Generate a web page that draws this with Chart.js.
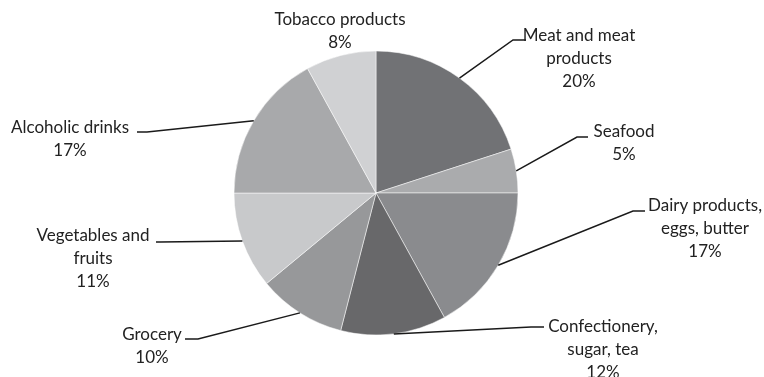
<!DOCTYPE html>
<html>
<head>
<meta charset="utf-8">
<script src="https://cdn.jsdelivr.net/npm/chart.js@4"></script>
<style>
  html, body { margin: 0; padding: 0; background: #fff; }
  #wrap { width: 764px; height: 377px; }
</style>
</head>
<body>
<div id="wrap"><canvas id="pie" width="764" height="377"></canvas></div>
<script>
// categories (split into the lines shown on the chart) and their shares, in %
const categories = [
    ['Meat and meat', 'products'],
    ['Seafood'],
    ['Dairy products,', 'eggs, butter'],
    ['Confectionery,', 'sugar, tea'],
    ['Grocery'],
    ['Vegetables and', 'fruits'],
    ['Alcoholic drinks'],
    ['Tobacco products']
];
const shares = [20, 5, 17, 12, 10, 11, 17, 8];
const sliceColors = ['#717275', '#aaabad', '#8a8b8e', '#68686a', '#97989a', '#c8c9cb', '#a8a9ab', '#d0d1d3'];

// where each callout sits: elbow of the leader line, end of its short tail, text centre + first line y
const callouts = [
    {elbow: [513, 40], tail: [526, 40], text: [579, 36]},
    {elbow: [577, 137], tail: [588, 137], text: [624, 132]},
    {elbow: [633, 211], tail: [645, 211], text: [705, 206]},
    {elbow: [531, 327], tail: [544, 327], text: [603, 327]},
    {elbow: [198, 339], tail: [185, 339], text: [152, 335]},
    {elbow: [160, 242], tail: [156, 242], text: [93, 236]},
    {elbow: [147, 132], tail: [137, 132], text: [70, 128]},
    {elbow: null, tail: null, text: [340, 20]}
];
const lineHeight = 23;

const calloutPlugin = {
    id: 'callouts',
    afterDraw(chart) {
        const ctx = chart.ctx;
        const arcs = chart.getDatasetMeta(0).data;
        ctx.save();
        arcs.forEach((arc, i) => {
            const c = callouts[i];
            const mid = (arc.startAngle + arc.endAngle) / 2;
            if (c.elbow) {
                ctx.beginPath();
                ctx.strokeStyle = '#1a1a1a';
                ctx.lineWidth = 1.5;
                ctx.moveTo(arc.x + Math.cos(mid) * arc.outerRadius, arc.y + Math.sin(mid) * arc.outerRadius);
                ctx.lineTo(c.elbow[0], c.elbow[1]);
                ctx.lineTo(c.tail[0], c.tail[1]);
                ctx.stroke();
            }
            ctx.fillStyle = '#222';
            ctx.font = '17px Lato';
            ctx.textAlign = 'center';
            ctx.textBaseline = 'middle';
            const lines = categories[i].concat([shares[i] + '%']);
            lines.forEach((t, k) => ctx.fillText(t, c.text[0], c.text[1] + k * lineHeight));
        });
        ctx.restore();
    }
};

new Chart(document.getElementById('pie').getContext('2d'), {
    type: 'pie',
    data: {
        labels: categories.map(l => l.join(' ')),
        datasets: [{
            data: shares,
            backgroundColor: sliceColors,
            borderColor: 'rgba(255,255,255,0.5)',
            borderWidth: 1
        }]
    },
    options: {
        responsive: false,
        animation: false,
        radius: 142,
        layout: {padding: {left: 234, right: 246, top: 51, bottom: 42}},
        plugins: {
            legend: {display: false},
            tooltip: {enabled: false}
        }
    },
    plugins: [calloutPlugin]
});
</script>
</body>
</html>
